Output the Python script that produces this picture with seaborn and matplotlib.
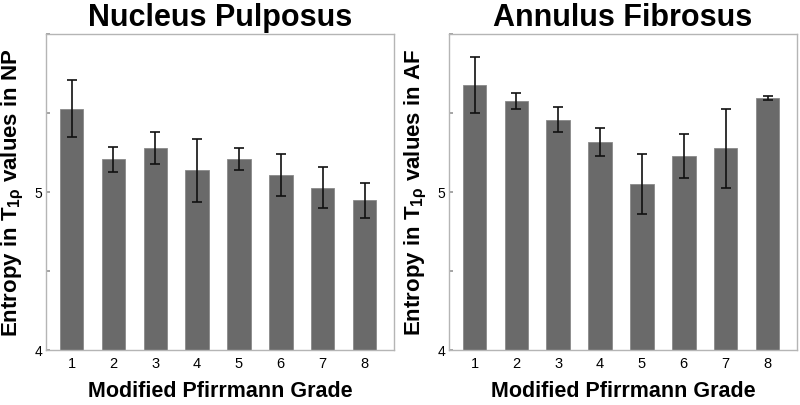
import numpy as np
import pandas as pd
import matplotlib
matplotlib.use("Agg")
import matplotlib.pyplot as plt
import seaborn as sns

# ─────────────────────────────────────────────
# Data
# ─────────────────────────────────────────────
grades = ["1", "2", "3", "4", "5", "6", "7", "8"]

np_mean = [5.53, 5.21, 5.28, 5.14, 5.21, 5.11, 5.03, 4.95]
np_err  = [0.18, 0.08, 0.10, 0.20, 0.07, 0.13, 0.13, 0.11]

af_mean = [5.68, 5.58, 5.46, 5.32, 5.05, 5.23, 5.28, 5.60]
af_err  = [0.18, 0.05, 0.08, 0.09, 0.19, 0.14, 0.25, 0.012]

BAR_COLOR  = "#6a6a6a"
SPINE_GREY = "#b5b5b5"

sns.set_theme(style="white")
plt.rcParams["font.family"] = ["Liberation Sans", "DejaVu Sans"]
plt.rcParams["text.color"] = "black"
plt.rcParams["axes.labelcolor"] = "black"
plt.rcParams["xtick.color"] = "black"
plt.rcParams["ytick.color"] = "black"
plt.rcParams["mathtext.fontset"] = "custom"
plt.rcParams["mathtext.rm"] = "Liberation Sans:bold"
plt.rcParams["mathtext.it"] = "Liberation Sans:bold"
plt.rcParams["mathtext.bf"] = "Liberation Sans:bold"


def draw_panel(ax, means, errs, title, region):
    df = pd.DataFrame({"grade": grades, "entropy": means})
    sns.barplot(
        data=df, x="grade", y="entropy", ax=ax,
        color=BAR_COLOR, saturation=1, width=0.56,
        edgecolor="#8a8a8a", linewidth=0.6, errorbar=None,
    )
    ax.errorbar(
        np.arange(len(grades)), means, yerr=errs,
        fmt="none", ecolor="#111111", elinewidth=1.2, capsize=3.5, capthick=1.2,
    )

    ax.set_ylim(4, 6)
    ax.set_xlim(-0.6, 7.7)
    ax.set_yticks([4, 4.5, 5, 5.5, 6])
    ax.set_yticklabels(["4", "", "5", "", ""])
    ax.tick_params(axis="y", left=True, direction="in", length=3,
                   color="#999999", labelcolor="black", labelsize=10, pad=3)
    ax.tick_params(axis="x", length=0, labelsize=10.5, pad=5)

    for s in ax.spines.values():
        s.set_color(SPINE_GREY)
        s.set_linewidth(1.0)

    ax.set_title(title, fontsize=22, fontweight="bold", pad=6)
    ax.set_xlabel("Modified Pfirrmann Grade", fontsize=15.5, fontweight="bold", labelpad=7)
    ax.set_ylabel(r"Entropy in T$_{1\rho}$ values in " + region,
                  fontsize=16, fontweight="bold", labelpad=6)


fig, axes = plt.subplots(1, 2, figsize=(8, 4.05), dpi=100)
fig.subplots_adjust(left=0.058, right=0.996, top=0.915, bottom=0.135, wspace=0.16)

draw_panel(axes[0], np_mean, np_err, "Nucleus Pulposus", "NP")
draw_panel(axes[1], af_mean, af_err, "Annulus Fibrosus", "AF")

fig.savefig("out.png", dpi=100)
